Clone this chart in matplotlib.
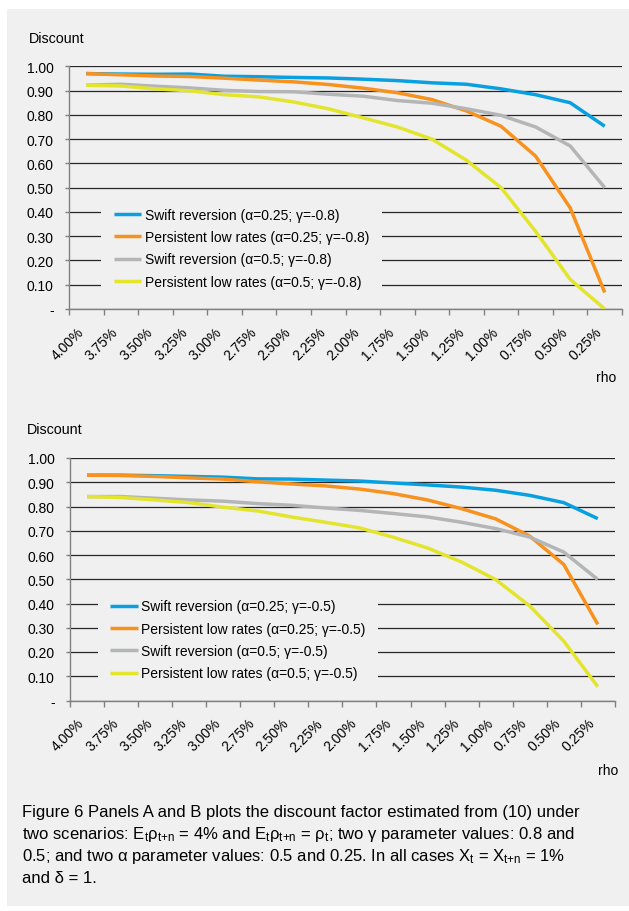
import matplotlib
matplotlib.use("Agg")
import matplotlib.pyplot as plt
from matplotlib.patches import Rectangle
import numpy as np

plt.rcParams['font.family'] = ['Liberation Sans', 'DejaVu Sans']
plt.rcParams['mathtext.fontset'] = 'custom'
plt.rcParams['mathtext.rm'] = 'Liberation Sans'
plt.rcParams['mathtext.it'] = 'Liberation Sans:italic'

# ---------------- data ----------------
categories = ["4.00%", "3.75%", "3.50%", "3.25%", "3.00%", "2.75%", "2.50%", "2.25%",
              "2.00%", "1.75%", "1.50%", "1.25%", "1.00%", "0.75%", "0.50%", "0.25%"]
y_ticks = [0.0, 0.1, 0.2, 0.3, 0.4, 0.5, 0.6, 0.7, 0.8, 0.9, 1.0]
y_tick_labels = ["-", "0.10", "0.20", "0.30", "0.40", "0.50", "0.60", "0.70", "0.80", "0.90", "1.00"]

# Panel A (gamma = -0.8)
a_swift_025 = [0.970, 0.968, 0.967, 0.968, 0.959, 0.957, 0.954, 0.952, 0.947, 0.941, 0.932, 0.926, 0.907, 0.883, 0.850, 0.753]
a_pers_025 = [0.970, 0.965, 0.960, 0.958, 0.951, 0.943, 0.936, 0.925, 0.910, 0.891, 0.863, 0.816, 0.753, 0.630, 0.417, 0.068]
a_swift_05 = [0.922, 0.926, 0.918, 0.911, 0.901, 0.896, 0.895, 0.885, 0.877, 0.859, 0.848, 0.825, 0.798, 0.750, 0.672, 0.500]
a_pers_05 = [0.922, 0.919, 0.907, 0.899, 0.883, 0.874, 0.853, 0.825, 0.788, 0.750, 0.700, 0.613, 0.500, 0.320, 0.122, 0.000]

# Panel B (gamma = -0.5)
b_swift_025 = [0.929, 0.929, 0.927, 0.924, 0.921, 0.914, 0.913, 0.909, 0.905, 0.897, 0.889, 0.880, 0.867, 0.846, 0.816, 0.750]
b_pers_025 = [0.929, 0.928, 0.924, 0.918, 0.913, 0.902, 0.893, 0.885, 0.872, 0.853, 0.827, 0.791, 0.749, 0.678, 0.561, 0.314]
b_swift_05 = [0.841, 0.841, 0.834, 0.827, 0.822, 0.812, 0.805, 0.794, 0.784, 0.771, 0.757, 0.735, 0.709, 0.674, 0.612, 0.499]
b_pers_05 = [0.841, 0.837, 0.827, 0.816, 0.797, 0.782, 0.757, 0.735, 0.712, 0.673, 0.629, 0.571, 0.499, 0.390, 0.245, 0.057]

labels_a = ["Swift reversion (α=0.25; γ=-0.8)", "Persistent low rates (α=0.25; γ=-0.8)",
            "Swift reversion (α=0.5; γ=-0.8)", "Persistent low rates (α=0.5; γ=-0.8)"]
labels_b = ["Swift reversion (α=0.25; γ=-0.5)", "Persistent low rates (α=0.25; γ=-0.5)",
            "Swift reversion (α=0.5; γ=-0.5)", "Persistent low rates (α=0.5; γ=-0.5)"]
colors = ["#08a0e0", "#f7921e", "#b4b5b7", "#e3e52d"]

caption_lines = [
    "Figure 6 Panels A and B plots the discount factor estimated from (10) under",
    r"two scenarios: $\mathregular{E_t\rho_{t{+}n}}$ = 4% and $\mathregular{E_t\rho_{t{+}n}}$ = $\mathregular{\rho_t}$; two γ parameter values: 0.8 and",
    r"0.5; and two α parameter values: 0.5 and 0.25. In all cases $\mathregular{X_t}$ = $\mathregular{X_{t{+}n}}$ = 1%",
    "and δ = 1.",
]

# ---------------- figure ----------------
W, H = 629, 912
BG = "#f0f0f0"
fig = plt.figure(figsize=(W / 100, H / 100), dpi=100, facecolor="white")
fig.patches.append(Rectangle((7 / W, 1 - 907 / H), (W - 7) / W, (907 - 10) / H,
                             transform=fig.transFigure, facecolor=BG, edgecolor="none", zorder=-10))


def fx(x):
    return x / W


def fy(y):
    return 1 - y / H


def make_panel(left, right, top, bottom, series, labels, leg_x, rho_xy, disc_xy):
    ax = fig.add_axes([fx(left), fy(bottom), (right - left) / W, (bottom - top) / H])
    ax.set_facecolor("none")
    x = np.arange(len(categories))
    for vals, lab, c in zip(series, labels, colors):
        ax.plot(x, vals, color=c, lw=2.5, label=lab, solid_capstyle="butt", zorder=3)
    ax.set_xlim(-0.5, len(categories) - 0.5)
    ax.set_ylim(0, 1.0)
    ax.set_yticks(y_ticks)
    ax.set_yticklabels(y_tick_labels)
    ax.set_xticks(x)
    ax.set_xticklabels(categories, rotation=45, ha="right")
    ax.set_xticks(np.arange(-0.5, len(categories), 1.0), minor=True)
    ax.tick_params(axis="x", which="major", length=0, pad=11, labelsize=10, colors="black")
    ax.tick_params(axis="x", which="minor", length=4, width=1, color="#808080", direction="out")
    ax.tick_params(axis="y", which="major", length=3, width=1, color="#808080", pad=8, labelsize=10)
    for s in ["top", "right"]:
        ax.spines[s].set_visible(False)
    for s in ["left", "bottom"]:
        ax.spines[s].set_color("#808080")
        ax.spines[s].set_linewidth(1.0)
    ax.yaxis.grid(True, color="#262626", lw=0.9)
    ax.set_axisbelow(True)
    leg = ax.legend(loc="center left", bbox_to_anchor=(leg_x, 0.25), borderaxespad=0,
                    frameon=True, fancybox=False, facecolor=BG, edgecolor=BG, framealpha=1,
                    fontsize=10, handlelength=2.0, handletextpad=0.25, labelspacing=0.6,
                    borderpad=0.9)
    leg.get_frame().set_linewidth(0)
    leg.set_zorder(5)
    fig.text(fx(disc_xy[0]), fy(disc_xy[1]), "Discount", fontsize=10.3, ha="left", va="center")
    fig.text(fx(rho_xy[0]), fy(rho_xy[1]), "rho", fontsize=10, ha="right", va="center")
    return ax


make_panel(69, 622, 67.3, 310, [a_swift_025, a_pers_025, a_swift_05, a_pers_05], labels_a,
           (101 - 69) / 553, (616, 378), (29, 39))
make_panel(70, 614.8, 459, 701.5, [b_swift_025, b_pers_025, b_swift_05, b_pers_05], labels_b,
           (97.5 - 70) / 544.8, (618, 771), (27, 430))

for i, line in enumerate(caption_lines):
    fig.text(fx(22), fy(813 + i * 21.7), line, fontsize=12, ha="left", va="center")

fig.savefig("out.png", dpi=100, facecolor="white")
